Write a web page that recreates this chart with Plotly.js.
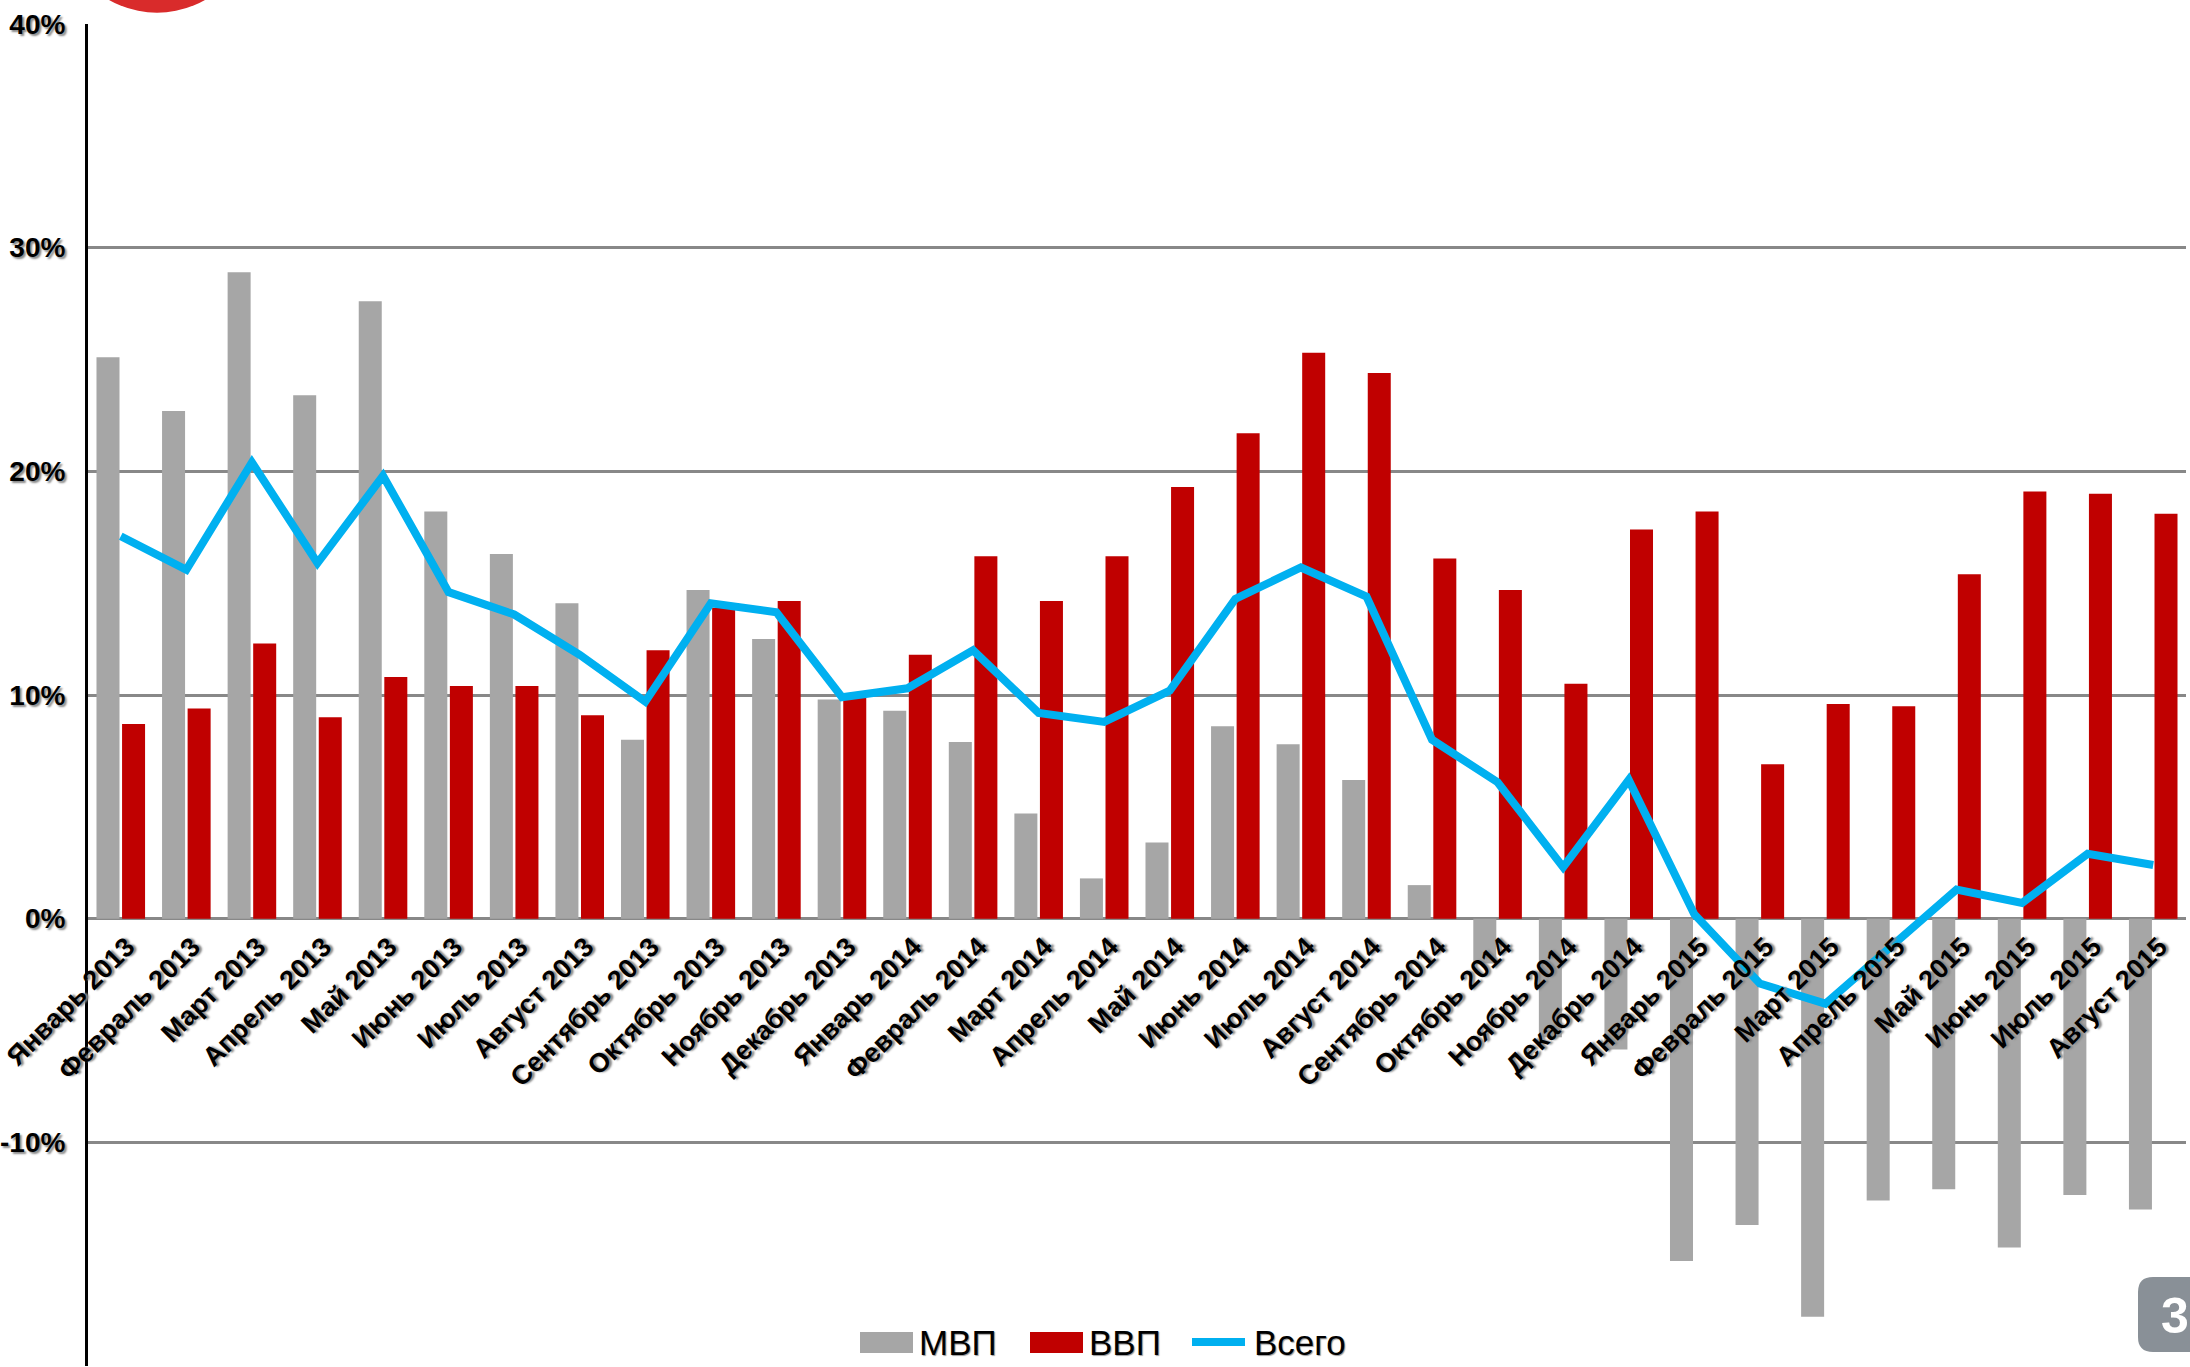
<!DOCTYPE html>
<html>
<head>
<meta charset="utf-8">
<script src="https://cdn.plot.ly/plotly-3.0.1.min.js"></script>
<style>
html,body{margin:0;padding:0;background:#fff;}
#chart{width:2190px;height:1367px;}
</style>
</head>
<body>
<div id="chart"></div>
<script>
// ---- data ----
var months = ["Январь 2013","Февраль 2013","Март 2013","Апрель 2013","Май 2013","Июнь 2013","Июль 2013","Август 2013","Сентябрь 2013","Октябрь 2013","Ноябрь 2013","Декабрь 2013",
  "Январь 2014","Февраль 2014","Март 2014","Апрель 2014","Май 2014","Июнь 2014","Июль 2014","Август 2014","Сентябрь 2014","Октябрь 2014","Ноябрь 2014","Декабрь 2014",
  "Январь 2015","Февраль 2015","Март 2015","Апрель 2015","Май 2015","Июнь 2015","Июль 2015","Август 2015"];
var mvp = [25.1, 22.7, 28.9, 23.4, 27.6, 18.2, 16.3, 14.1, 8.0, 14.7, 12.5, 9.8,
  9.3, 7.9, 4.7, 1.8, 3.4, 8.6, 7.8, 6.2, 1.5, -2.0, -5.3, -5.85,
  -15.3, -13.7, -17.8, -12.6, -12.1, -14.7, -12.35, -13.0];
var vvp = [8.7, 9.4, 12.3, 9.0, 10.8, 10.4, 10.4, 9.1, 12.0, 13.9, 14.2, 9.9,
  11.8, 16.2, 14.2, 16.2, 19.3, 21.7, 25.3, 24.4, 16.1, 14.7, 10.5, 17.4,
  18.2, 6.9, 9.6, 9.5, 15.4, 19.1, 19.0, 18.1];
var total = [17.1, 15.6, 20.4, 15.9, 19.8, 14.6, 13.6, 11.8, 9.7, 14.1, 13.7, 9.9,
  10.3, 12.0, 9.2, 8.8, 10.2, 14.3, 15.7, 14.4, 8.0, 6.1, 2.3, 6.2,
  0.2, -2.9, -3.8, -1.3, 1.3, 0.7, 2.9, 2.4];
var seriesNames = ["МВП", "ВВП", "Всего"];
var yTicks = [-20, -10, 0, 10, 20, 30, 40];
var yTickText = ["-20%", "-10%", "0%", "10%", "20%", "30%", "40%"];
var badgeText = "3";

// ---- styles ----
var cGray = "#a6a6a6", cRed = "#c00000", cBlue = "#00b0f0";
var fam = "Liberation Sans, Arial, sans-serif";

var traces = [
  {type:"bar", name:seriesNames[0], x:months, y:mvp, marker:{color:cGray}, hoverinfo:"x+y"},
  {type:"bar", name:seriesNames[1], x:months, y:vvp, marker:{color:cRed}, hoverinfo:"x+y"},
  {type:"scatter", mode:"lines", name:seriesNames[2], x:months, y:total,
   line:{color:cBlue, width:8, shape:"linear"}, hoverinfo:"x+y"}
];

// pixel -> paper helpers (plot area: x 88..2186, y 24..1366)
function px(x){ return (x-88)/2098; }
function py(y){ return (1366-y)/1342; }

var bx0 = px(2138), bx1 = px(2200), byt = py(1277), byb = py(1352);
var rx = 15/2098, ry = 15/1342;
var badgePath = "M" + (bx0+rx) + "," + byt + " L" + bx1 + "," + byt + " L" + bx1 + "," + byb +
  " L" + (bx0+rx) + "," + byb + " Q" + bx0 + "," + byb + " " + bx0 + "," + (byb+ry) +
  " L" + bx0 + "," + (byt-ry) + " Q" + bx0 + "," + byt + " " + (bx0+rx) + "," + byt + " Z";

var legFont = {family:fam, size:35, color:"#000", shadow:"1px 1px 1px #999"};
var xTickFont = {family:fam, size:27, weight:"bold", color:"#000", shadow:"2px 2px 2px #888"};
var yTickFont = {family:fam, size:28, weight:"bold", color:"#000", shadow:"2px 2px 2px #888"};

var layout = {
  width:2190, height:1367,
  margin:{l:88, r:4, t:24, b:1, pad:0},
  paper_bgcolor:"#fff", plot_bgcolor:"#fff",
  showlegend:false,
  barmode:"group", bargap:0.22, bargroupgap:0.1,
  font:{family:fam, color:"#000"},
  xaxis:{
    type:"category", anchor:"free", position:20/60,
    showgrid:false, showline:false, zeroline:false,
    ticks:"", tickangle:-45, ticklabelstandoff:6, ticklabelshift:6,
    tickfont:xTickFont,
    fixedrange:true
  },
  yaxis:{
    range:[-20,40], tickmode:"array", tickvals:yTicks, ticktext:yTickText,
    showgrid:true, gridcolor:"#888888", gridwidth:3,
    zeroline:true, zerolinecolor:"#888888", zerolinewidth:3,
    showline:true, linecolor:"#000", linewidth:3,
    ticks:"", ticklabelstandoff:14,
    tickfont:yTickFont,
    fixedrange:true
  },
  shapes:[
    // top-left logo fragment
    {type:"circle", xref:"paper", yref:"paper", x0:px(60), x1:px(254), y0:py(12.7), y1:py(-181),
     fillcolor:"#d92b2b", line:{width:0}, layer:"above"},
    // legend swatches
    {type:"rect", xref:"paper", yref:"paper", x0:px(860), x1:px(913), y0:py(1353), y1:py(1332),
     fillcolor:cGray, line:{width:0}},
    {type:"rect", xref:"paper", yref:"paper", x0:px(1030), x1:px(1083), y0:py(1353), y1:py(1332),
     fillcolor:cRed, line:{width:0}},
    {type:"line", xref:"paper", yref:"paper", x0:px(1192), x1:px(1245), y0:py(1342), y1:py(1342),
     line:{color:cBlue, width:8}},
    // page badge
    {type:"path", xref:"paper", yref:"paper", path:badgePath, fillcolor:"#899097", line:{width:0}}
  ],
  annotations:[
    {xref:"paper", yref:"paper", x:px(917), y:py(1342), xanchor:"left", yanchor:"middle",
     text:seriesNames[0], showarrow:false, font:legFont},
    {xref:"paper", yref:"paper", x:px(1087), y:py(1342), xanchor:"left", yanchor:"middle",
     text:seriesNames[1], showarrow:false, font:legFont},
    {xref:"paper", yref:"paper", x:px(1252), y:py(1342), xanchor:"left", yanchor:"middle",
     text:seriesNames[2], showarrow:false, font:legFont},
    {xref:"paper", yref:"paper", x:px(2175), y:py(1316), xanchor:"center", yanchor:"middle",
     text:badgeText, showarrow:false, font:{family:fam, size:50, weight:"bold", color:"#fff"}}
  ]
};

Plotly.newPlot("chart", traces, layout, {displayModeBar:false, staticPlot:true});
</script>
</body>
</html>
